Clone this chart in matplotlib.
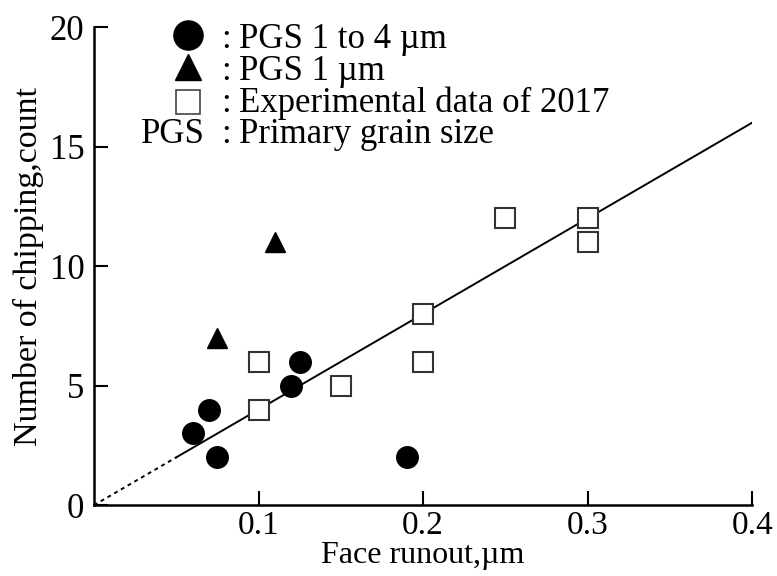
import matplotlib
matplotlib.use("Agg")
import matplotlib.pyplot as plt

plt.rcParams['font.family'] = ['Liberation Serif', 'DejaVu Serif']

# data
pgs_1to4_x = [0.06, 0.07, 0.075, 0.12, 0.125, 0.19]
pgs_1to4_y = [3, 4, 2, 5, 6, 2]
pgs_1_x = [0.075, 0.11]
pgs_1_y = [7, 11]
exp2017_x = [0.1, 0.1, 0.15, 0.2, 0.2, 0.25, 0.3, 0.3]
exp2017_y = [6, 4, 5, 8, 6, 12, 12, 11]

slope = 40.0          # fitted line y = slope * x
fit_dotted_x = [0.0, 0.05]
fit_solid_x = [0.05, 0.4]

x_ticks = [0.1, 0.2, 0.3, 0.4]
y_ticks = [0, 5, 10, 15, 20]

fig = plt.figure(figsize=(7.77, 5.76), dpi=100)
ax = fig.add_axes([0.121, 0.123, 0.847, 0.830])

ax.plot(fit_dotted_x, [slope * v for v in fit_dotted_x], color='black', lw=1.4, ls=(0, (2, 2)))
ax.plot(fit_solid_x, [slope * v for v in fit_solid_x], color='black', lw=1.4)

ax.plot(pgs_1to4_x, pgs_1to4_y, 'o', color='black', ms=15.5, zorder=3)
ax.plot(pgs_1_x, pgs_1_y, '^', color='black', ms=15, zorder=3)
ax.plot(exp2017_x, exp2017_y, 's', mfc='white', mec='#333333', mew=1.5, ms=14, zorder=3)

ax.set_xlim(0, 0.4)
ax.set_ylim(0, 20)
ax.set_xticks(x_ticks)
ax.set_xticklabels([f"{v:.1f}" for v in x_ticks])
ax.set_yticks(y_ticks)
ax.tick_params(direction='in', length=10, width=1.5, labelsize=25, pad=7)
ax.tick_params(axis='x', labelsize=24, pad=4)
for s in ['top', 'right']:
    ax.spines[s].set_visible(False)
for s in ['left', 'bottom']:
    ax.spines[s].set_linewidth(1.8)

ax.set_xlabel("Face runout,\u00b5m", fontsize=23, labelpad=0)
ax.set_ylabel("Number of chipping,count", fontsize=24.5, labelpad=4)

# hand-made legend
tr = ax.transAxes
text_rows = [0.956, 0.889, 0.822, 0.757]
labels = ["PGS 1 to 4 \u00b5m", "PGS 1 \u00b5m", "Experimental data of 2017", "Primary grain size"]
ax.plot([0.143], [0.983], 'o', color='black', ms=21, transform=tr, clip_on=False)
ax.plot([0.143], [0.916], '^', color='black', ms=19, transform=tr, clip_on=False)
ax.plot([0.143], [0.843], 's', mfc='white', mec='#444444', mew=1.2, ms=17.5, transform=tr, clip_on=False)
ax.text(0.169, text_rows[3], "PGS", transform=tr, fontsize=25, ha='right', va='baseline')
for r, lab in zip(text_rows, labels):
    ax.text(0.193, r, ":", transform=tr, fontsize=25, ha='left', va='baseline')
    ax.text(0.221, r, lab, transform=tr, fontsize=25, ha='left', va='baseline')

fig.savefig("out.png", dpi=100)
